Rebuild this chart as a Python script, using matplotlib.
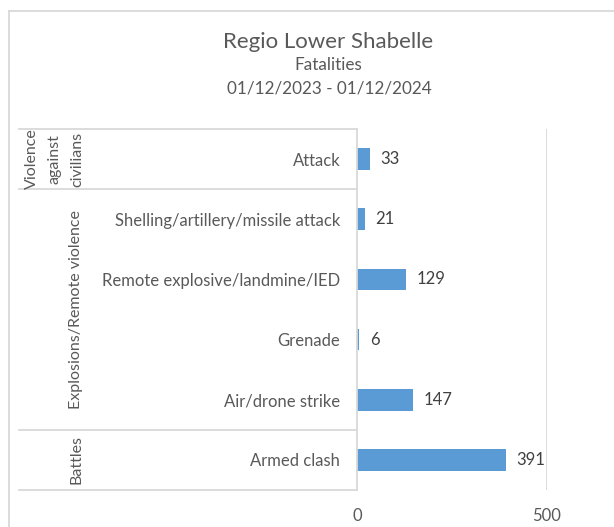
"""Fatalities by event type, Lower Shabelle, as a grouped horizontal bar chart."""
import matplotlib.pyplot as plt
from matplotlib.lines import Line2D
from matplotlib.transforms import blended_transform_factory

plt.rcParams["font.family"] = ["Lato", "DejaVu Sans"]

sub_events = ["Attack", "Shelling/artillery/missile attack",
              "Remote explosive/landmine/IED", "Grenade",
              "Air/drone strike", "Armed clash"]
fatalities = [33, 21, 129, 6, 147, 391]
groups = ["Violence\nagainst\ncivilians", "Explosions/Remote violence", "Battles"]
group_sizes = [1, 4, 1]
x_ticks = [0, 500]

W, H, DPI = 614, 527, 100
GRID = "#d9d9d9"
BAR = "#5b9bd5"
TXT = "#595959"
FS = 12

fig = plt.figure(figsize=(W / DPI, H / DPI), dpi=DPI)


def fx(px):
    return px / W


def fy(py):
    return 1 - py / H


# outer chart frame (runs off the right and bottom edges)
fig.add_artist(Line2D([fx(9), fx(9)], [fy(11), fy(H + 5)], color=GRID, lw=1.3,
                      transform=fig.transFigure))
fig.add_artist(Line2D([fx(9), fx(W + 5)], [fy(11), fy(11)], color=GRID, lw=1.3,
                      transform=fig.transFigure))

fig.text(fx(328), fy(42), "Regio Lower Shabelle", ha="center", va="center",
         fontsize=16, color=TXT)
fig.text(fx(328), fy(65), "Fatalities", ha="center", va="center",
         fontsize=12.3, color=TXT)
fig.text(fx(329), fy(88), "01/12/2023 - 01/12/2024", ha="center", va="center",
         fontsize=12.3, color=TXT)

left, right, top, bottom = 357, 547, 129, 490
ax = fig.add_axes([fx(left), fy(bottom), fx(right - left), (bottom - top) / H])

ypos = list(range(len(sub_events)))
ax.barh(ypos, fatalities, height=0.36, color=BAR)
for y, v in zip(ypos, fatalities):
    ax.text(v + 28, y, str(v), va="center", ha="left", fontsize=FS,
            color="#404040")

ax.set_xlim(0, 500)
ax.set_ylim(len(sub_events) - 0.5, -0.5)
for s in ax.spines.values():
    s.set_visible(False)
ax.axvline(500, color=GRID, lw=1.3)

ax.set_xticks(x_ticks)
ax.set_xticklabels([str(t) for t in x_ticks], fontsize=FS, color=TXT)
ax.tick_params(axis="x", length=0, pad=13)
ax.set_yticks(ypos)
ax.set_yticklabels(sub_events, fontsize=FS, color=TXT)
ax.tick_params(axis="y", length=0, pad=12)

# category table to the left of the axis
tr = blended_transform_factory(ax.transAxes, ax.transData)
x_tab = (19 - left) / (right - left)
ax.plot([0, 0], [-0.5, len(sub_events) - 0.5], color=GRID, lw=1.3,
        transform=tr, clip_on=False)
edge = -0.5
ax.plot([x_tab, 0], [edge, edge], color=GRID, lw=1.3, transform=tr, clip_on=False)
for name, n in zip(groups, group_sizes):
    mid = edge + n / 2
    edge += n
    ax.plot([x_tab, 0], [edge, edge], color=GRID, lw=1.3, transform=tr,
            clip_on=False)
    gx = (55 if "\n" in name else 76) - left
    ax.text(gx / (right - left), mid, name, rotation=90, ha="center",
            va="center", fontsize=11.5, color=TXT, transform=tr,
            linespacing=1.8, multialignment="center")

fig.savefig("out.png", dpi=DPI)
